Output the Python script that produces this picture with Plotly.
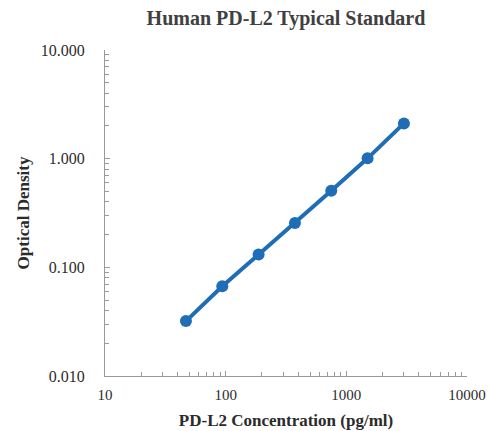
import plotly.graph_objects as go

# Data
concentration = [46.875, 93.75, 187.5, 375, 750, 1500, 3000]
optical_density = [0.032, 0.067, 0.131, 0.256, 0.507, 1.007, 2.11]

x_tick_vals = [10, 100, 1000, 10000]
x_tick_text = ["10", "100", "1000", "10000"]
y_tick_vals = [0.01, 0.1, 1, 10]
y_tick_text = ["0.010", "0.100", "1.000", "10.000"]

# minor (log) tick positions: 2..9 within each decade
x_minor = [m * d for d in (10, 100, 1000) for m in range(2, 10)]
y_minor = [m * d for d in (0.01, 0.1, 1) for m in range(2, 10)]

blue = "#1f6db5"
axis_gray = "#9a9a9a"
text_col = "#2b2b2b"
serif = "Liberation Serif, Times New Roman, serif"

fig = go.Figure()
fig.add_trace(go.Scatter(
    x=concentration, y=optical_density,
    mode="lines+markers",
    line=dict(color=blue, width=4),
    marker=dict(color=blue, size=12),
    showlegend=False,
))

fig.update_layout(
    width=489, height=431,
    margin=dict(l=105, r=22, t=50, b=55),
    paper_bgcolor="white", plot_bgcolor="white",
    title=dict(text="<b>Human PD-L2 Typical Standard</b>",
               xref="paper", x=0.5, xanchor="center",
               y=1 - 18 / 431, yanchor="middle",
               font=dict(family=serif, size=20, color="#404040")),
    font=dict(family=serif, size=16, color=text_col),
)

fig.update_xaxes(
    type="log", range=[1, 4], automargin=False,
    tickvals=x_tick_vals, ticktext=x_tick_text,
    showline=True, linecolor=axis_gray, linewidth=1,
    showgrid=False, zeroline=False,
    ticks="inside", ticklen=5, tickcolor=axis_gray,
    minor=dict(tickmode="array", tickvals=x_minor, ticks="inside",
               ticklen=4, tickcolor=axis_gray, showgrid=False),
    ticklabelstandoff=5,
    ticklabeloverflow="allow",
    tickfont=dict(family=serif, size=15, color=text_col),
    title=dict(text="<b>PD-L2 Concentration (pg/ml)</b>", standoff=12,
               font=dict(family=serif, size=17, color=text_col)),
)

fig.update_yaxes(
    type="log", range=[-2, 1], automargin=False,
    tickvals=y_tick_vals, ticktext=y_tick_text,
    showline=True, linecolor=axis_gray, linewidth=1,
    showgrid=False, zeroline=False,
    ticks="inside", ticklen=5, tickcolor=axis_gray,
    minor=dict(tickmode="array", tickvals=y_minor, ticks="inside",
               ticklen=4, tickcolor=axis_gray, showgrid=False),
    ticklabelstandoff=16,
    tickfont=dict(family=serif, size=16, color=text_col),
    title=dict(text="<b>Optical Density</b>", standoff=6,
               font=dict(family=serif, size=17, color=text_col)),
)

# remove the default page margin so the figure fills the window exactly
fig.write_html(
    "out.html",
    config={"displayModeBar": False},
    post_script="document.body.style.margin='0';document.body.style.overflow='hidden';",
)
